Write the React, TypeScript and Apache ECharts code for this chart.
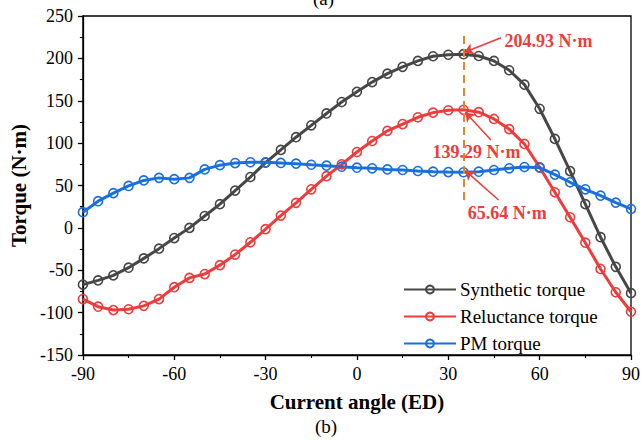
import React, { useEffect, useRef } from "react";
import * as echarts from "echarts";

const angles = [-90, -85, -80, -75, -70, -65, -60, -55, -50, -45, -40, -35, -30, -25, -20, -15, -10, -5, 0, 5, 10, 15, 20, 25, 30, 35, 40, 45, 50, 55, 60, 65, 70, 75, 80, 85, 90];
const synthetic = [-67, -62, -56, -47, -36, -24.5, -12, 0, 14, 28, 44, 60, 77, 92, 107, 121, 135, 148.5, 160.5, 172, 182, 190, 197, 202.5, 204.3, 204.93, 202.8, 197, 186, 169, 140.5, 105, 67, 28, -11, -46, -77];
const reluctance = [-84, -93, -97, -96, -92, -84, -70, -59, -54.5, -44, -31.5, -17, -1.5, 14.5, 29.5, 45.5, 61, 75, 89.5, 102.5, 114.5, 122.5, 130.5, 136, 138.8, 139.29, 136.5, 128.5, 116.5, 99, 71.5, 42, 12.5, -17.5, -48.5, -76, -99];
const pm = [18.5, 31.5, 41, 49.5, 56, 59, 57.5, 59, 69, 74, 76.5, 77.4, 77.4, 76.6, 75.8, 74.5, 73.4, 72.2, 71, 70.3, 69, 68.3, 67.1, 66.3, 65.8, 65.64, 66.3, 68.3, 70.3, 71.8, 71, 62.8, 53.8, 45.5, 38, 29.8, 22.3];
const seriesNames = ["Synthetic torque", "Reluctance torque", "PM torque"];
const peakAngle = 35;
const peakLabels = ["204.93 N·m", "139.29 N·m", "65.64 N·m"];

const FONT = "'Liberation Serif', 'Times New Roman', serif";
const GRAY = "#474747";
const RED = "#ee3b3b";
const BLUE = "#1a6fdf";
const ORANGE = "#e8842c";

export default function App() {
  const ref = useRef<HTMLDivElement>(null);
  useEffect(() => {
    if (!ref.current) return;
    const chart = echarts.init(ref.current, null, { renderer: "svg" });
    const mk = (name: string, color: string, vals: number[], extra: any = {}) => ({
      name,
      type: "line",
      data: angles.map((a, i) => [a, vals[i]]),
      color,
      symbol: "circle",
      symbolSize: 9,
      itemStyle: { color: "rgba(255,255,255,0)", borderColor: color, borderWidth: 1.6 },
      lineStyle: { color, width: 3 },
      z: 3,
      ...extra,
    });
    const arrowStyle = { color: RED, width: 1.5, type: "solid" };
    const textLabel = (txt: string) => ({
      show: true,
      position: "inside",
      formatter: txt,
      color: RED,
      fontFamily: FONT,
      fontWeight: "bold",
      fontSize: 18,
    });
    chart.setOption({
      animation: false,
      grid: { left: 80, right: 9, top: 16, bottom: 85, show: true, borderColor: "#000", borderWidth: 1.3, backgroundColor: "transparent" },
      legend: {
        orient: "vertical",
        left: 403,
        top: 280,
        padding: 0,
        itemWidth: 52,
        itemHeight: 10,
        itemGap: 8,
        textStyle: { fontFamily: FONT, fontSize: 19, color: "#000", padding: [0, 0, 0, -1] },
        data: seriesNames,
      },
      xAxis: {
        type: "value",
        min: -90,
        max: 90,
        interval: 30,
        name: "Current angle (ED)",
        nameLocation: "middle",
        nameGap: 36,
        nameTextStyle: { fontFamily: FONT, fontSize: 21, fontWeight: "bold", color: "#000" },
        axisLine: { show: true, onZero: false, lineStyle: { color: "#000", width: 1.3 } },
        axisTick: { show: true, length: 5, lineStyle: { color: "#000", width: 1.3 } },
        minorTick: { show: true, splitNumber: 2, length: 3, lineStyle: { color: "#000", width: 1.1 } },
        axisLabel: { fontFamily: FONT, fontSize: 18, color: "#000", margin: 10 },
        splitLine: { show: false },
      },
      yAxis: {
        type: "value",
        min: -150,
        max: 250,
        interval: 50,
        name: "Torque (N·m)",
        nameLocation: "middle",
        nameGap: 52,
        nameTextStyle: { fontFamily: FONT, fontSize: 21, fontWeight: "bold", color: "#000" },
        axisLine: { show: true, onZero: false, lineStyle: { color: "#000", width: 1.3 } },
        axisTick: { show: true, length: 5, lineStyle: { color: "#000", width: 1.3 } },
        minorTick: { show: true, splitNumber: 2, length: 3, lineStyle: { color: "#000", width: 1.1 } },
        axisLabel: { fontFamily: FONT, fontSize: 18, color: "#000", margin: 10 },
        splitLine: { show: false },
      },
      graphic: [
        { type: "text", left: 313, top: -11, style: { text: "(a)", font: `19px ${FONT}`, fill: "#000" } },
        { type: "text", left: 315, top: 417, style: { text: "(b)", font: `19px ${FONT}`, fill: "#000" } },
      ],
      series: [
        mk(seriesNames[0], GRAY, synthetic, {
          markLine: {
            silent: true,
            symbol: ["none", "arrow"],
            symbolSize: 9,
            label: { show: false },
            data: [
              [
                { coord: [peakAngle, 33], symbol: "none", lineStyle: { color: ORANGE, width: 2, type: [8, 5] } },
                { coord: [peakAngle, 230], symbol: "none" },
              ],
              [{ coord: [47.3, 224.4], lineStyle: arrowStyle }, { coord: [35.3, 207.2] }],
            ],
          },
          markPoint: {
            silent: true,
            symbol: "circle",
            symbolSize: 0,
            data: [{ coord: [62.9, 220.9], label: textLabel(peakLabels[0]) }],
          },
        }),
        mk(seriesNames[1], RED, reluctance, {
          markLine: {
            silent: true,
            symbol: ["none", "arrow"],
            symbolSize: 9,
            label: { show: false },
            data: [[{ coord: [44.0, 103.7], lineStyle: arrowStyle }, { coord: [35.6, 136.4] }]],
          },
          markPoint: {
            silent: true,
            symbol: "circle",
            symbolSize: 0,
            data: [{ coord: [39.3, 89.9], label: textLabel(peakLabels[1]) }],
          },
        }),
        mk(seriesNames[2], BLUE, pm, {
          markLine: {
            silent: true,
            symbol: ["none", "arrow"],
            symbolSize: 9,
            label: { show: false },
            data: [[{ coord: [46.5, 32.9], lineStyle: arrowStyle }, { coord: [35.6, 67.5] }]],
          },
          markPoint: {
            silent: true,
            symbol: "circle",
            symbolSize: 0,
            data: [{ coord: [49.4, 17.6], label: textLabel(peakLabels[2]) }],
          },
        }),
      ],
    });
    return () => chart.dispose();
  }, []);
  return <div ref={ref} style={{ width: 643, height: 440, position: "absolute", left: 0, top: 0 }} />;
}
